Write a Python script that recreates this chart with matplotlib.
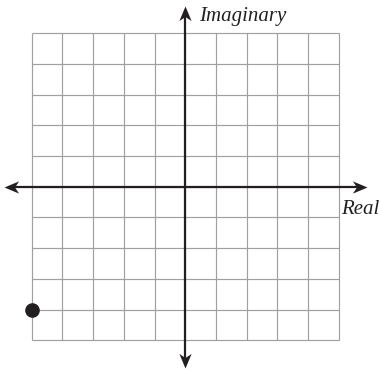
import numpy as np
import matplotlib
matplotlib.use("Agg")
import matplotlib.pyplot as plt
from matplotlib.path import Path

# Data
grid_ticks = list(range(-5, 6))          # grid lines from -5 to 5
axis_extent = 5.9                         # arrow tips
point_re = [-5]
point_im = [-4]
x_label = "Real"
y_label = "Imaginary"

fig = plt.figure(figsize=(3.81, 3.70), dpi=100)
ax = fig.add_axes([0, 0, 1, 1])
ax.set_xlim(-6.03, 6.37)
ax.set_ylim(-5.97, 6.08)
ax.axis("off")

grid_color = "#a0a0a0"
lo, hi = grid_ticks[0], grid_ticks[-1]
for t in grid_ticks:
    ax.plot([t, t], [lo, hi], color=grid_color, lw=0.85, zorder=1, solid_capstyle="butt")
    ax.plot([lo, hi], [t, t], color=grid_color, lw=0.85, zorder=1, solid_capstyle="butt")

axis_color = "#231f20"
ax.plot([-axis_extent + 0.2, axis_extent - 0.2], [0, 0], color=axis_color, lw=1.6, zorder=2)
ax.plot([0, 0], [-axis_extent + 0.2, axis_extent - 0.2], color=axis_color, lw=1.6, zorder=2)

def head(angle_deg):
    base = np.array([(0, 0), (-1, 0.42), (-0.72, 0), (-1, -0.42), (0, 0)])
    a = np.deg2rad(angle_deg)
    R = np.array([[np.cos(a), -np.sin(a)], [np.sin(a), np.cos(a)]])
    v = base @ R.T
    return Path(v, [Path.MOVETO, Path.LINETO, Path.LINETO, Path.LINETO, Path.CLOSEPOLY])

for (x, y, ang) in [(axis_extent, 0, 0), (-axis_extent, 0, 180),
                    (0, axis_extent, 90), (0, -axis_extent, 270)]:
    ax.plot([x], [y], marker=head(ang), markersize=21, color=axis_color,
            markeredgewidth=0, linestyle="none", zorder=3)

ax.plot(point_re, point_im, "o", color=axis_color, markersize=9.5, zorder=4)

font = dict(family=["Liberation Serif", "DejaVu Serif"], style="italic", size=15, color="#231f20")
ax.text(0.45, 5.41, y_label, ha="left", va="baseline", **font)
ax.text(5.06, -0.89, x_label, ha="left", va="baseline", **font)

fig.savefig("out.png", dpi=100)
